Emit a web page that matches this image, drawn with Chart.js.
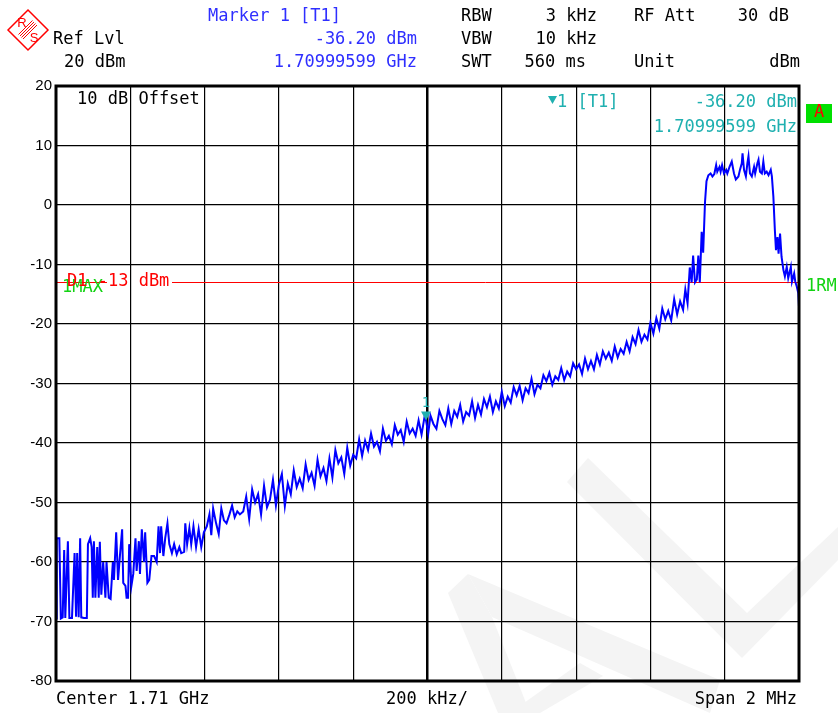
<!DOCTYPE html>
<html>
<head>
<meta charset="utf-8">
<script src="https://cdn.jsdelivr.net/npm/chart.js@4/dist/chart.umd.min.js"></script>
<style>
  html, body { margin: 0; background: #fff; }
  canvas { display: block; }
</style>
</head>
<body>
<canvas id="spectrum" width="838" height="713"></canvas>
<script>
// sweep readout: offset from 1.71 GHz centre (kHz) and level (dBm)
const offsetKHz = [
  -1000, -998, -991, -987, -982, -978, -975, -968, -964, -957, -950, -946, -943, -939, -935, -932, -925, -917, -914, -908,
  -904, -901, -898, -894, -889, -885, -882, -878, -873, -867, -864, -858, -853, -847, -844, -838, -833, -828, -822, -819,
  -813, -810, -806, -803, -797, -792, -786, -783, -777, -774, -769, -763, -760, -754, -749, -743, -736, -729, -724, -720,
  -717, -711, -706, -700, -695, -688, -682, -675, -668, -663, -655, -652, -647, -641, -636, -630, -623, -616, -609, -602,
  -594, -587, -582, -577, -569, -562, -555, -548, -541, -533, -526, -519, -512, -505,
  -496, -488, -480, -472, -464, -456, -448, -440, -432, -424,
  -416, -408, -400, -392, -384, -376, -368, -360, -352, -344,
  -336, -328, -320, -312, -304, -296, -288, -280, -272, -264,
  -256, -248, -240, -232, -224, -216, -208, -200, -192, -184,
  -176, -168, -160, -152, -144, -136, -128, -120, -112, -104,
  -96, -88, -80, -72, -64, -56, -48, -40, -32, -24,
  -16, -8, -4, 2, 8, 16, 24, 32, 40, 48, 56,
  64, 72, 80, 88, 96, 104, 112, 120, 128, 136,
  144, 152, 160, 168, 176, 184, 192, 200, 208, 216,
  224, 232, 240, 248, 256, 264, 272, 280, 288, 296,
  304, 312, 320, 328, 336, 344, 352, 360, 368, 376,
  384, 392, 400, 408, 416, 424, 432, 440, 448, 456,
  464, 472, 480, 488, 496, 504, 512, 520, 528, 536,
  544, 552, 560, 568, 576, 584, 592, 600, 608, 616,
  624, 632, 640, 648, 656, 664, 672, 680, 688, 694,
  700, 706, 711, 715, 720, 725, 729, 733, 738, 742, 747, 751, 756, 762, 767, 772,
  777, 780, 786, 789, 793, 798, 804, 807, 813, 819, 825, 830, 837, 841, 846, 848,
  852, 857, 861, 864, 868, 873, 879, 882, 888, 891, 895, 900, 904, 908, 913, 918,
  924, 927, 931, 935, 938, 942, 945, 949, 953, 958, 962, 967, 971, 978, 981, 987,
  990, 994, 998, 1000
];
const levelDbm = [
  -69.5, -56, -56, -69.5, -69.3, -58, -69.4, -56.5, -69.4, -69.4, -58.5, -69.2, -58.5, -69.3, -56, -69.3, -69.4, -69.4, -57, -56,
  -57.5, -66, -56.5, -66, -57.5, -66, -56.6, -65.5, -60, -66, -60, -66, -66.2, -60, -63, -55, -63, -59, -54.5, -63.5,
  -64, -66, -66, -57, -64, -62, -56, -61.5, -56.5, -62, -54.5, -60, -55, -63.5, -63, -59, -59, -60, -54, -58.5,
  -54, -59, -56, -53.5, -57, -58.5, -57, -58.7, -57.5, -58.5, -58.3, -53.5, -57, -54.3, -57, -54, -57.5, -54.5, -57.5, -55,
  -54, -52, -55.5, -51, -53.5, -55.3, -51, -53, -53.5, -52, -50.5, -52.5, -51.5, -52,
  -51.5, -49, -52.8, -47.8, -50, -48.6, -52, -47.2, -50.8, -49.5,
  -46.2, -50.5, -47, -45.2, -50.6, -46.8, -48.6, -44.6, -47.4, -46,
  -47.6, -43.6, -46.2, -45, -47.2, -42.8, -45.6, -44.2, -46.4, -42.6,
  -45.8, -41.2, -43.4, -42.4, -45.2, -40.8, -43.8, -42, -42.6, -39.4,
  -42.2, -39.6, -41.2, -38.4, -40.6, -39.8, -41.4, -37.6, -39.6, -38.8,
  -40.2, -37, -38.6, -37.8, -39.8, -36.4, -38.4, -37.6, -38.8, -36.2,
  -38.6, -35.6, -36.2, -38.4, -35.4, -36.8, -37.6, -34.6, -36, -37, -34.2,
  -36.8, -34.6, -35.6, -33.6, -36.4, -34.8, -35.4, -33, -35.8, -33.6,
  -35.2, -32.6, -34, -32.2, -34.8, -33, -34.2, -31.4, -33.8, -32.2,
  -33.2, -30.6, -32, -30.4, -32.8, -30.8, -31.6, -29.2, -31.8, -30.2,
  -30.8, -28.6, -29.6, -28.2, -30.2, -28.8, -29.4, -27.4, -29.4, -28,
  -28.8, -26.6, -27.6, -26.8, -28.4, -25.8, -27.6, -26.2, -27.6, -25.2,
  -26.8, -24.6, -25.8, -24.8, -26.2, -23.8, -25.6, -24.2, -25, -23,
  -24.6, -22.2, -23.4, -21, -23, -21.8, -22.6, -19.8, -21.6, -19,
  -20.8, -17.4, -19.2, -17.8, -19.4, -15.8, -18.4, -16.2, -17.6, -14.2,
  -16.5, -10.5, -13, -8.5, -13, -12.5, -8.5, -13, -4.5, -8, 0.5, 4, 5, 5.3, 4.8, 5.2,
  6.7, 5.6, 6.4, 5.6, 6.7, 5.3, 5.9, 5.3, 6.4, 7.3, 5.3, 4.3, 4.8, 5.9, 7, 8.7,
  5.9, 4.8, 7, 8.2, 5.3, 4.8, 6.4, 5.3, 7, 7.6, 5.6, 5.3, 7.3, 5.3, 5.6, 5,
  5.9, 4.8, 1.4, -4.2, -7.6, -5.4, -8.2, -4.8, -8.7, -10.9, -12, -10.4, -12.3, -10.4, -12.9, -11.5,
  -12.9, -13.7, -14.8, -17.1
];

const spanKHz = [-1000, 1000];
const levelRange = [-80, 20];
const divDb = 10;
const divKHz = 200;
const displayLineDbm = -13;
const markerKHz = -4;
const markerDbm = -36.2;

const MONO = '17px "DejaVu Sans Mono", monospace';
const BLUE = "#2f2fff";
const CYAN = "#1fb0b0";
const GREEN = "#12d312";
const RED = "#ff0000";

function txt(ctx, s, x, y, color, align) {
  ctx.fillStyle = color;
  ctx.textAlign = align || "left";
  ctx.fillText(s, x, y);
}

// faint watermark + R&S logo + readout texts
const screenPlugin = {
  id: "screen",
  beforeDraw(chart) {
    const ctx = chart.ctx;
    ctx.save();
    ctx.fillStyle = "#fff";
    ctx.fillRect(0, 0, chart.width, chart.height);
    ctx.fillStyle = "#f4f4f4";
    const shapes = [
      [[448, 593], [468, 574], [492, 617], [530, 713], [498, 713]],
      [[468, 574], [720, 680], [710, 713], [492, 617]],
      [[580, 663], [603, 676], [540, 713], [510, 713]],
      [[588, 458], [747, 613], [838, 527], [838, 560], [742, 658], [567, 482]],
    ];
    shapes.forEach((p) => {
      ctx.beginPath();
      p.forEach(([x, y], i) => (i ? ctx.lineTo(x, y) : ctx.moveTo(x, y)));
      ctx.closePath();
      ctx.fill();
    });
    ctx.restore();
  },
  beforeDatasetsDraw(chart) {
    const { ctx, chartArea: a, scales } = chart;
    const y = Math.round(scales.y.getPixelForValue(displayLineDbm)) + 0.5;
    ctx.save();
    ctx.strokeStyle = RED;
    ctx.lineWidth = 1;
    ctx.beginPath();
    ctx.moveTo(a.left, y); ctx.lineTo(107, y);
    ctx.moveTo(172, y); ctx.lineTo(a.right, y);
    ctx.stroke();
    ctx.restore();
  },
  afterDatasetsDraw(chart) {
    const { ctx, chartArea: a, scales } = chart;
    ctx.save();
    // frame
    ctx.strokeStyle = "#000";
    ctx.lineWidth = 3;
    ctx.strokeRect(a.left, a.top, a.right - a.left, a.bottom - a.top);

    ctx.font = MONO;
    ctx.textBaseline = "middle";

    // logo
    ctx.strokeStyle = RED;
    ctx.lineWidth = 1.5;
    ctx.beginPath();
    ctx.moveTo(8, 30); ctx.lineTo(28, 10); ctx.lineTo(48, 30); ctx.lineTo(28, 50); ctx.closePath();
    ctx.stroke();
    ctx.lineWidth = 1;
    [53, 56, 59, 62].forEach((c) => {
      const x1 = (c - 22) / 2 + 3, x2 = (c + 18) / 2 - 3;
      ctx.beginPath();
      ctx.moveTo(x1, c - x1); ctx.lineTo(x2, c - x2);
      ctx.stroke();
    });
    ctx.font = '13px "Liberation Sans", sans-serif';
    txt(ctx, "R", 22, 23, RED, "center");
    txt(ctx, "S", 34, 38, RED, "center");
    ctx.font = MONO;

    // header
    txt(ctx, "Ref Lvl", 53, 40, "#000");
    txt(ctx, "20 dBm", 64, 63, "#000");
    txt(ctx, "Marker 1 [T1]", 208, 17, BLUE);
    txt(ctx, "-36.20 dBm", 417, 40, BLUE, "right");
    txt(ctx, "1.70999599 GHz", 417, 63, BLUE, "right");
    txt(ctx, "RBW", 461, 17, "#000");
    txt(ctx, "3 kHz", 597, 17, "#000", "right");
    txt(ctx, "RF Att", 634, 17, "#000");
    txt(ctx, "30 dB", 789, 17, "#000", "right");
    txt(ctx, "VBW", 461, 40, "#000");
    txt(ctx, "10 kHz", 597, 40, "#000", "right");
    txt(ctx, "SWT", 461, 63, "#000");
    txt(ctx, "560 ms", 586, 63, "#000", "right");
    txt(ctx, "Unit", 634, 63, "#000");
    txt(ctx, "dBm", 800, 63, "#000", "right");

    // in-grid labels
    txt(ctx, "10 dB Offset", 77, 100, "#000");
    ctx.fillStyle = CYAN;
    ctx.beginPath();
    ctx.moveTo(548, 96); ctx.lineTo(557, 96); ctx.lineTo(552.5, 104); ctx.closePath();
    ctx.fill();
    txt(ctx, "1 [T1]", 557, 103, CYAN);
    txt(ctx, "-36.20 dBm", 797, 103, CYAN, "right");
    txt(ctx, "1.70999599 GHz", 797, 128, CYAN, "right");

    // display line labels
    txt(ctx, "1MAX", 62, 288, GREEN);
    txt(ctx, "D1 -13 dBm", 67, 282, RED);
    txt(ctx, "1RM", 806, 287, GREEN);

    // status box
    ctx.fillStyle = "#00e000";
    ctx.fillRect(806, 104, 26, 19);
    txt(ctx, "A", 819, 113, RED, "center");

    // marker on trace
    const mx = scales.x.getPixelForValue(markerKHz);
    const my = scales.y.getPixelForValue(markerDbm);
    ctx.fillStyle = CYAN;
    ctx.beginPath();
    ctx.moveTo(mx - 5, my - 9); ctx.lineTo(mx + 5, my - 9); ctx.lineTo(mx, my); ctx.closePath();
    ctx.fill();
    ctx.font = '14px "DejaVu Sans Mono", monospace';
    txt(ctx, "1", mx, my - 17, CYAN, "center");
    ctx.font = MONO;

    // footer
    txt(ctx, "Center 1.71 GHz", 56, 700, "#000");
    txt(ctx, "200 kHz/", 386, 700, "#000");
    txt(ctx, "Span 2 MHz", 797, 700, "#000", "right");
    ctx.restore();
  },
};

new Chart(document.getElementById("spectrum"), {
  type: "line",
  data: {
    datasets: [{
      data: offsetKHz.map((k, i) => ({ x: k, y: levelDbm[i] })),
      borderColor: "#0000ff",
      borderWidth: 2,
      pointRadius: 0,
      tension: 0,
    }],
  },
  options: {
    responsive: false,
    animation: false,
    events: [],
    layout: { padding: { left: 0, right: 39, top: 86, bottom: 32 } },
    plugins: { legend: { display: false }, tooltip: { enabled: false } },
    scales: {
      x: {
        type: "linear",
        min: spanKHz[0], max: spanKHz[1],
        ticks: { display: false, stepSize: divKHz },
        grid: {
          color: "#000",
          lineWidth: (c) => (c.tick && c.tick.value === 0 ? 2.5 : 1.2),
          drawTicks: false,
        },
        border: { display: false },
        afterFit: (s) => { s.height = 0; },
      },
      y: {
        min: levelRange[0], max: levelRange[1],
        ticks: {
          stepSize: divDb,
          padding: 4,
          color: "#000",
          font: { family: '"Liberation Sans", sans-serif', size: 15 },
          callback: (v) => String(v),
        },
        grid: { color: "#000", lineWidth: 1.2, drawTicks: false },
        border: { display: false },
        afterFit: (s) => { s.height = s.height; s.width = 56; },
      },
    },
  },
  plugins: [screenPlugin],
});
</script>
</body>
</html>
